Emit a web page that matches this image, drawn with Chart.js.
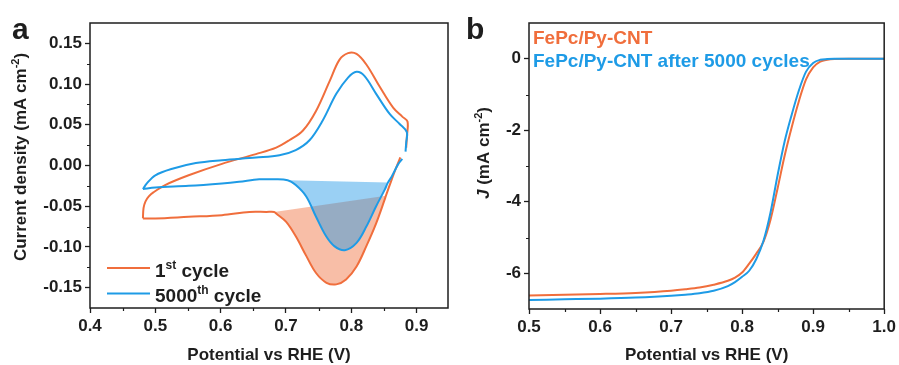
<!DOCTYPE html>
<html lang="en">
<head>
<meta charset="UTF-8">
<title>CV and LSV before / after cycling</title>
<script src="https://cdn.jsdelivr.net/npm/chart.js"></script>
<style>
    body { margin: 0; background: #fff; }
    #wrap { position: relative; width: 899px; height: 365px; }
    canvas { position: absolute; top: 0; }
    #cvChart { left: 0; }
    #lsvChart { left: 450px; }
</style>
</head>
<body>
<div id="wrap">
    <canvas id="cvChart" width="450" height="365"></canvas>
    <canvas id="lsvChart" width="449" height="365"></canvas>
</div>
<script>
// ---- panel a: CV loops (null = small break in the trace near the vertex) ----
const cv1X = [0.481, 0.482, 0.485, 0.490, 0.497, 0.515, 0.551, 0.602, 0.654, 0.685, 0.705, 0.726, 0.746, 0.767, 0.782, 0.795, 0.808, 0.823, 0.844, 0.864, 0.878, 0.886, 0.885, 0.884, null,
              0.875, 0.868, 0.8615, 0.853, 0.851, 0.838, 0.823, 0.808, 0.792, 0.777, 0.762, 0.746, 0.731, 0.715, 0.700, 0.685, 0.682, 0.670, 0.644, 0.602, 0.551, 0.500, 0.481];
const cv1Y = [-0.065, -0.052, -0.044, -0.038, -0.033, -0.024, -0.012, 0.002, 0.014, 0.022, 0.031, 0.043, 0.067, 0.104, 0.130, 0.138, 0.137, 0.124, 0.096, 0.071, 0.060, 0.054, 0.035, 0.022, null,
              0.010, -0.004, -0.018, -0.037, -0.042, -0.071, -0.099, -0.124, -0.140, -0.146, -0.144, -0.132, -0.111, -0.087, -0.069, -0.059, -0.057, -0.057, -0.057, -0.061, -0.063, -0.065, -0.065];

const cv2X = [0.481, 0.487, 0.500, 0.526, 0.562, 0.602, 0.654, 0.690, 0.715, 0.736, 0.756, 0.777, 0.795, 0.808, 0.820, 0.838, 0.859, 0.874, 0.885, 0.884, 0.883, null,
              0.878, 0.872, 0.8615, 0.856, 0.851, 0.838, 0.823, 0.808, 0.790, 0.774, 0.7615, 0.746, 0.731, 0.715, 0.7025, 0.679, 0.659, 0.628, 0.602, 0.551, 0.500, 0.481];
const cv2Y = [-0.029, -0.022, -0.012, -0.004, 0.003, 0.0065, 0.0098, 0.0126, 0.019, 0.031, 0.055, 0.088, 0.108, 0.115, 0.110, 0.088, 0.063, 0.051, 0.041, 0.028, 0.017, null,
              0.008, 0.002, -0.014, -0.021, -0.030, -0.050, -0.075, -0.095, -0.104, -0.099, -0.087, -0.063, -0.038, -0.024, -0.018, -0.017, -0.017, -0.020, -0.022, -0.025, -0.027, -0.029];

// baselines of the shaded reduction peaks (left end, right end)
const cvBase1X = [0.682, 0.853];
const cvBase1Y = [-0.057, -0.037];
const cvBase2X = [0.7025, 0.856];
const cvBase2Y = [-0.018, -0.021];

const cvXTicks = [0.4, 0.5, 0.6, 0.7, 0.8, 0.9];
const cvYTicks = [-0.15, -0.10, -0.05, 0.00, 0.05, 0.10, 0.15];

// ---- panel b: LSV ----
const lsvX  = [0.50, 0.55, 0.60, 0.65, 0.70, 0.72, 0.74, 0.76, 0.78, 0.79, 0.80, 0.81, 0.82, 0.83, 0.84, 0.85, 0.86, 0.87, 0.88, 0.89, 0.90, 0.91, 0.92, 0.93, 0.95, 1.00];
const lsv1Y = [-6.62, -6.60, -6.58, -6.55, -6.49, -6.45, -6.40, -6.32, -6.21, -6.12, -5.98, -5.73, -5.45, -5.12, -4.50, -3.62, -2.70, -1.90, -1.18, -0.58, -0.24, -0.08, -0.03, -0.01, 0, 0];
const lsv2Y = [-6.75, -6.73, -6.71, -6.68, -6.63, -6.60, -6.56, -6.49, -6.36, -6.25, -6.10, -5.93, -5.60, -5.10, -4.30, -3.25, -2.30, -1.55, -0.88, -0.36, -0.12, -0.03, -0.01, 0, 0, 0];

const lsvXTicks = [0.5, 0.6, 0.7, 0.8, 0.9, 1.0];
const lsvYTicks = [-6, -4, -2, 0];

const ORANGE = '#f06e3c';
const BLUE = '#1e9be6';
const INK = '#1e1e1e';
const FONT = '"Liberation Sans", Arial, sans-serif';

function pts(xs, ys) {
    return xs.map((x, i) => ({ x: x, y: ys[i] }));
}

// closed outline: curve (after the vertex break) between the two baseline ends
function peakShape(xs, ys, bx, by) {
    const start = ys.indexOf(null) + 1;
    const out = [{ x: bx[1], y: by[1] }];
    for (let i = start; i < xs.length; i++) {
        if (xs[i] < bx[1] && xs[i] > bx[0]) out.push({ x: xs[i], y: ys[i] });
    }
    out.push({ x: bx[0], y: by[0] });
    return out;
}

function mids(arr) {
    const m = [];
    for (let i = 0; i < arr.length - 1; i++) m.push((arr[i] + arr[i + 1]) / 2);
    return m;
}

// text with superscript / italic pieces: parts = [[text, 'sup' | 'it' | undefined], ...]
function richText(ctx, parts, x, y, size, align) {
    const fontOf = p => (p[1] === 'it' ? 'italic ' : '') + 'bold ' + (p[1] === 'sup' ? Math.round(size * 0.64) : size) + 'px ' + FONT;
    let w = 0;
    parts.forEach(p => { ctx.font = fontOf(p); w += ctx.measureText(p[0]).width; });
    let cx = align === 'center' ? x - w / 2 : x;
    ctx.textAlign = 'left';
    ctx.textBaseline = 'alphabetic';
    parts.forEach(p => {
        ctx.font = fontOf(p);
        ctx.fillText(p[0], cx, p[1] === 'sup' ? y - size * 0.4 : y);
        cx += ctx.measureText(p[0]).width;
    });
}

// frame, minor ticks and all free text
const decor = {
    id: 'decor',
    afterDraw(chart, args, o) {
        const { ctx, chartArea: a } = chart;
        const xs = chart.scales.x, ys = chart.scales.y;
        ctx.save();
        ctx.strokeStyle = INK;
        ctx.lineWidth = 1.5;
        ctx.strokeRect(a.left, a.top, a.right - a.left, a.bottom - a.top);

        ctx.lineWidth = 1.2;
        ctx.beginPath();
        o.minorX.forEach(v => {
            const p = Math.round(xs.getPixelForValue(v)) + 0.5;
            ctx.moveTo(p, a.bottom); ctx.lineTo(p, a.bottom + 3);
        });
        o.minorY.forEach(v => {
            const p = Math.round(ys.getPixelForValue(v)) + 0.5;
            ctx.moveTo(a.left, p); ctx.lineTo(a.left - 3, p);
        });
        ctx.stroke();

        ctx.fillStyle = INK;
        ctx.font = 'bold 30px ' + FONT;
        ctx.textAlign = 'left';
        ctx.textBaseline = 'alphabetic';
        ctx.fillText(o.letter, o.letterX, 39);

        richText(ctx, [['Potential vs RHE (V)']], (a.left + a.right) / 2, 360, 17, 'center');

        ctx.save();
        ctx.translate(o.yTitleX, o.yTitleY);
        ctx.rotate(-Math.PI / 2);
        richText(ctx, o.yTitle, 0, 6, 17, 'center');
        ctx.restore();

        if (o.legendA) {
            ctx.lineWidth = 2;
            [[ORANGE, 268, [['1'], ['st', 'sup'], [' cycle']]],
             [BLUE, 293.5, [['5000'], ['th', 'sup'], [' cycle']]]].forEach(r => {
                ctx.strokeStyle = r[0];
                ctx.beginPath(); ctx.moveTo(107, r[1]); ctx.lineTo(150, r[1]); ctx.stroke();
                ctx.fillStyle = INK;
                richText(ctx, r[2], 155, r[1] + 8.5, 19, 'left');
            });
        } else {
            ctx.fillStyle = ORANGE;
            richText(ctx, [['FePc/Py-CNT']], a.left + 4, 44, 19, 'left');
            ctx.fillStyle = BLUE;
            richText(ctx, [['FePc/Py-CNT after 5000 cycles']], a.left + 4, 67, 19, 'left');
        }
        ctx.restore();
    }
};

function axis(min, max, ticks, digits, fitFn) {
    return {
        type: 'linear',
        min: min,
        max: max,
        afterFit: fitFn,
        afterBuildTicks: s => { s.ticks = ticks.map(v => ({ value: v })); },
        ticks: {
            callback: v => digits === 0 ? String(v) : v.toFixed(digits),
            font: { family: FONT, size: 17, weight: 'bold' },
            color: INK,
            padding: 3,
            maxRotation: 0,
            autoSkip: false
        },
        grid: { display: true, drawOnChartArea: false, drawTicks: true, tickLength: 5, tickWidth: 1.3, tickColor: INK },
        border: { display: false }
    };
}

const common = {
    responsive: false,
    animation: false,
    events: [],
    elements: { point: { radius: 0 } }
};

new Chart(document.getElementById('cvChart'), {
    type: 'scatter',
    data: {
        datasets: [
            { data: pts(cv1X, cv1Y), showLine: true, tension: 0.35, borderColor: ORANGE, borderWidth: 2, order: 1 },
            { data: pts(cv2X, cv2Y), showLine: true, tension: 0.35, borderColor: BLUE, borderWidth: 2, order: 0 },
            { data: peakShape(cv1X, cv1Y, cvBase1X, cvBase1Y), showLine: true, tension: 0.35, borderWidth: 0, borderColor: 'rgba(0,0,0,0)',
              fill: 'shape', backgroundColor: 'rgba(240,110,60,0.45)', order: 3 },
            { data: peakShape(cv2X, cv2Y, cvBase2X, cvBase2Y), showLine: true, tension: 0.35, borderWidth: 0, borderColor: 'rgba(0,0,0,0)',
              fill: 'shape', backgroundColor: 'rgba(30,150,230,0.45)', order: 2 }
        ]
    },
    options: Object.assign({}, common, {
        layout: { padding: { left: 0, right: 2, top: 23, bottom: 0 } },
        plugins: {
            legend: { display: false },
            tooltip: { enabled: false },
            decor: {
                minorX: mids(cvXTicks), minorY: mids(cvYTicks),
                letter: 'a', letterX: 12,
                yTitle: [['Current density (mA cm'], ['-2', 'sup'], [')']],
                yTitleX: 20, yTitleY: 157,
                legendA: true
            }
        },
        scales: {
            x: axis(0.4, 0.948, cvXTicks, 1, s => { s.height = 57; }),
            y: axis(-0.175, 0.175, cvYTicks, 2, s => { s.width = 90; })
        }
    }),
    plugins: [decor]
});

new Chart(document.getElementById('lsvChart'), {
    type: 'scatter',
    data: {
        datasets: [
            { data: pts(lsvX, lsv1Y), showLine: true, cubicInterpolationMode: 'monotone', borderColor: ORANGE, borderWidth: 2, order: 1 },
            { data: pts(lsvX, lsv2Y), showLine: true, cubicInterpolationMode: 'monotone', borderColor: BLUE, borderWidth: 2, order: 0 }
        ]
    },
    options: Object.assign({}, common, {
        layout: { padding: { left: 0, right: 14, top: 23, bottom: 0 } },
        plugins: {
            legend: { display: false },
            tooltip: { enabled: false },
            decor: {
                minorX: mids(lsvXTicks), minorY: mids(lsvYTicks),
                letter: 'b', letterX: 16,
                yTitle: [['J', 'it'], [' (mA cm'], ['-2', 'sup'], [')']],
                yTitleX: 33, yTitleY: 153,
                legendA: false
            }
        },
        scales: {
            x: axis(0.5, 1.0, lsvXTicks, 1, s => { s.height = 56; }),
            y: axis(-7, 1, lsvYTicks, 0, s => { s.width = 79; })
        }
    }),
    plugins: [decor]
});
</script>
</body>
</html>
